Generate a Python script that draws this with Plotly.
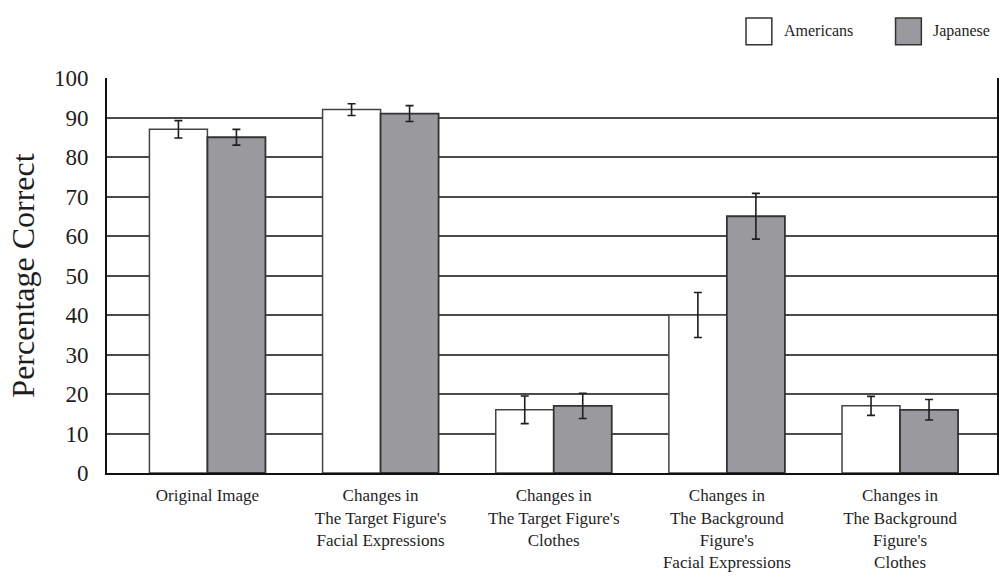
import plotly.graph_objects as go

# Recognition accuracy by change condition and cultural group
categories = [
    "Original Image",
    "Changes in<br>The Target Figure's<br>Facial Expressions",
    "Changes in<br>The Target Figure's<br>Clothes",
    "Changes in<br>The Background<br>Figure's<br>Facial Expressions",
    "Changes in<br>The Background<br>Figure's<br>Clothes",
]
americans = [87, 92, 16, 40, 17]
americans_err = [2.2, 1.5, 3.5, 5.7, 2.4]
japanese = [85, 91, 17, 65, 16]
japanese_err = [2.0, 2.0, 3.2, 5.8, 2.6]
y_ticks = [0, 10, 20, 30, 40, 50, 60, 70, 80, 90, 100]

SERIF = "Liberation Serif, Times New Roman, serif"
INK = "#1e1e1e"
GRAY = "#9a9a9e"

x = list(range(len(categories)))

fig = go.Figure()
fig.add_trace(go.Bar(
    name="Americans", x=x, y=americans,
    marker=dict(color="white", line=dict(color="#444444", width=1.5)),
    error_y=dict(type="data", array=americans_err, color=INK, thickness=1.6, width=4),
    showlegend=False,
))
fig.add_trace(go.Bar(
    name="Japanese", x=x, y=japanese,
    marker=dict(color=GRAY, line=dict(color="#333333", width=1.8)),
    error_y=dict(type="data", array=japanese_err, color=INK, thickness=1.6, width=4),
    showlegend=False,
))

# Legend drawn as boxed swatches in the top-right corner
legend_items = [("Americans", "white"), ("Japanese", GRAY)]
swatch_x = [0.718, 0.886]
for (label, color), sx in zip(legend_items, swatch_x):
    fig.add_shape(type="rect", xref="paper", yref="paper",
                  x0=sx, x1=sx + 0.029, y0=1.084, y1=1.152,
                  fillcolor=color, line=dict(color="#333333", width=1.5))
    fig.add_annotation(xref="paper", yref="paper", x=sx + 0.040, y=1.119,
                       text=label, showarrow=False, xanchor="left", yanchor="middle",
                       font=dict(family=SERIF, size=16, color=INK))

fig.update_layout(
    width=999, height=578,
    margin=dict(l=107, r=0, t=78, b=105),
    paper_bgcolor="white", plot_bgcolor="white",
    barmode="group", bargap=0.33, bargroupgap=0,
    font=dict(family=SERIF, color=INK),
)
fig.update_xaxes(
    tickmode="array", tickvals=x, ticktext=categories,
    range=[-0.58, 4.56], showgrid=False, zeroline=False,
    showline=True, linecolor="#111111", linewidth=2,
    tickfont=dict(family=SERIF, size=17, color=INK), ticks="",
    ticklabelstandoff=6,
)
fig.update_yaxes(
    range=[0, 100], tickvals=y_ticks,
    showgrid=True, gridcolor="#4a4a4a", gridwidth=2,
    zeroline=False, showline=True, linecolor="#111111", linewidth=2,
    mirror=True,
    tickfont=dict(family=SERIF, size=23, color=INK), ticklabelstandoff=12,
    title=dict(text="Percentage Correct", font=dict(family=SERIF, size=32, color=INK), standoff=10),
)

fig.write_html("out.html")
